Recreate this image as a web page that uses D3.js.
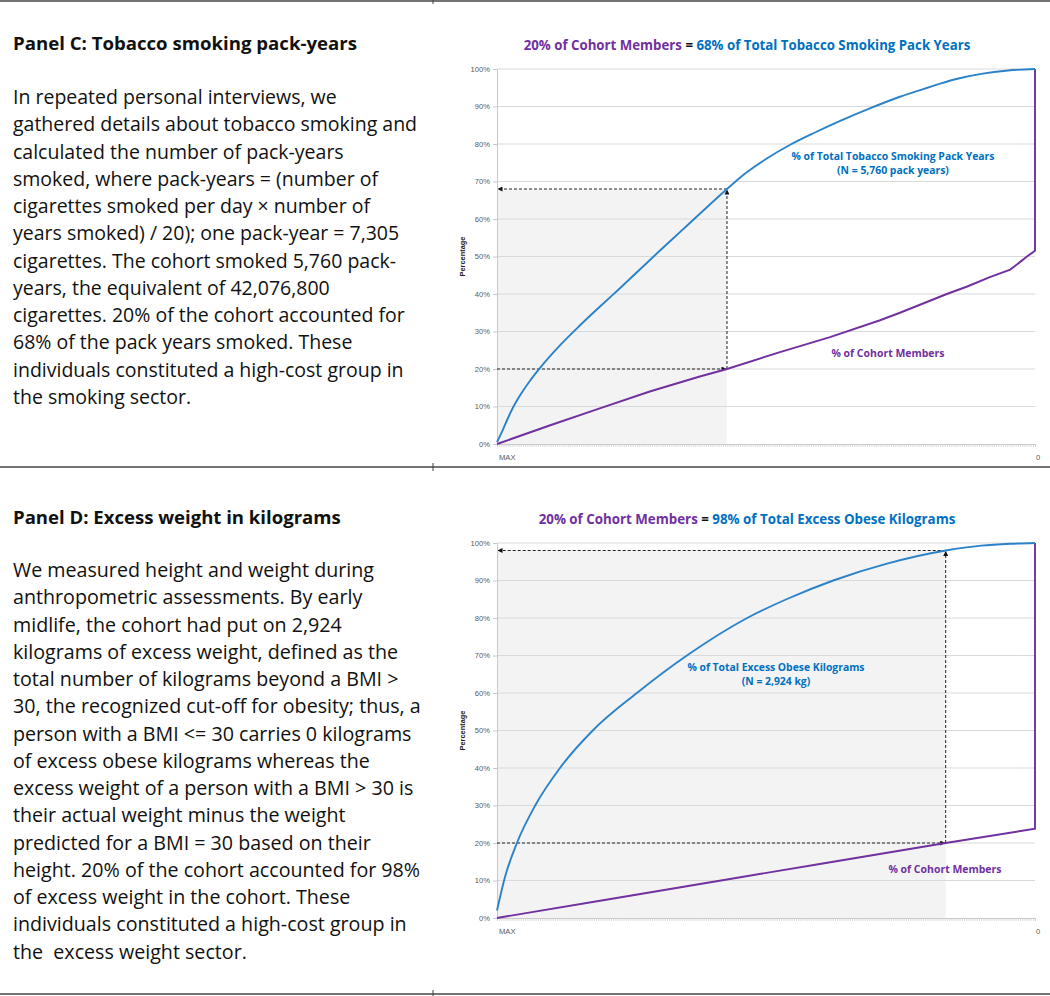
<!DOCTYPE html>
<html><head><meta charset="utf-8">
<script src="https://cdn.jsdelivr.net/npm/d3@7"></script>
<style>body{margin:0;background:#fff;} svg{display:block;}</style>
</head><body><svg id="c" width="1050" height="996"></svg>
<script>
// ---------- DATA ----------
const yTickValues = [0,10,20,30,40,50,60,70,80,90,100];
const xTickLabels = ["MAX", "0"];

const panelCTitle = "Panel C: Tobacco smoking pack-years";
const panelCLines = [
  "In repeated personal interviews, we",
  "gathered details about tobacco smoking and",
  "calculated the number of pack-years",
  "smoked, where pack-years = (number of",
  "cigarettes smoked per day \u00d7 number of",
  "years smoked) / 20); one pack-year = 7,305",
  "cigarettes. The cohort smoked 5,760 pack-",
  "years, the equivalent of 42,076,800",
  "cigarettes. 20% of the cohort accounted for",
  "68% of the pack years smoked. These",
  "individuals constituted a high-cost group in",
  "the smoking sector."
];
const panelDTitle = "Panel D: Excess weight in kilograms";
const panelDLines = [
  "We measured height and weight during",
  "anthropometric assessments. By early",
  "midlife, the cohort had put on 2,924",
  "kilograms of excess weight, defined as the",
  "total number of kilograms beyond a BMI >",
  "30, the recognized cut-off for obesity; thus, a",
  "person with a BMI <= 30 carries 0 kilograms",
  "of excess obese kilograms whereas the",
  "excess weight of a person with a BMI > 30 is",
  "their actual weight minus the weight",
  "predicted for a BMI = 30 based on their",
  "height. 20% of the cohort accounted for 98%",
  "of excess weight in the cohort. These",
  "individuals constituted a high-cost group in",
  "the  excess weight sector."
];

// Panel C series (x = position along the MAX..0 axis, in % of axis)
const cShareX = [0, 1, 2, 3, 4.3, 6.1, 8.0, 11.7, 15.4, 19.1, 22.9, 26.6, 30.3, 34.0, 37.7, 42.75, 46, 50, 54.5, 59, 64, 69.3, 74.9, 80, 85, 90, 95, 100];
const cShareY = [0.5, 3.5, 6.8, 9.8, 13, 16.8, 20.3, 26.3, 31.6, 36.6, 41.6, 46.6, 51.6, 56.5, 61.4, 68, 72, 76, 79.8, 83, 86.3, 89.5, 92.6, 95, 97.2, 98.7, 99.6, 100];
const cCohortX = [0, 9.9, 19.1, 28.4, 37.7, 42.75, 52.6, 61.9, 71.2, 74.9, 83.6, 87.4, 91.6, 95.4, 97.2, 98.5, 100, 100];
const cCohortY = [0, 5, 9.5, 14, 18, 20, 24.5, 28.5, 33, 35, 40, 42, 44.5, 46.5, 48.5, 50, 51.5, 100];
const cMarker = {x: 42.75, cohort: 20, share: 68};

// Panel D series
const dShareX = [0, 1.5, 3.7, 7.1, 11.7, 17.8, 26.0, 35.3, 46.5, 53.8, 62.5, 72.5, 83.4, 90, 95.4, 100];
const dShareY = [2, 11, 20, 30, 40, 50, 60, 70, 80, 85, 90, 94.5, 98, 99.3, 99.8, 100];
const dCohortX = [0, 20, 43.3, 60, 83.4, 100, 100];
const dCohortY = [0, 4.8, 10.4, 14.4, 20, 23.8, 100];
const dMarker = {x: 83.4, cohort: 20, share: 98};

// ---------- STYLE ----------
const BLUE_LINE = "#2b82c9", PURPLE = "#7030a0", BLUE_TXT = "#0070c0";
const TXT_FONT = "'Open Sans', Lato, sans-serif";
const AX_FONT = "'Liberation Sans', Arial, sans-serif";

const svg = d3.select("#c");
const defs = svg.append("defs");
defs.append("marker").attr("id","arr").attr("viewBox","0 0 10 10")
  .attr("refX",9).attr("refY",5).attr("markerWidth",5).attr("markerHeight",5)
  .attr("orient","auto-start-reverse")
  .append("path").attr("d","M0,0 L10,5 L0,10 z").attr("fill","#111");

// scale a text element's font so that a measured node has the target width
function fit(textSel, measureNode, target) {
  const fs = parseFloat(textSel.attr("font-size"));
  const w = measureNode.getComputedTextLength();
  if (w > 0) textSel.attr("font-size", (fs * target / w).toFixed(2));
}

// Table borders
[1, 467, 994].forEach(y => {
  svg.append("line").attr("x1",0).attr("x2",1050).attr("y1",y).attr("y2",y)
    .attr("stroke","#444").attr("stroke-width",1.4);
});
[[0,4],[463,471],[990,996]].forEach(([a,b]) => {
  svg.append("line").attr("x1",433).attr("x2",433).attr("y1",a).attr("y2",b)
    .attr("stroke","#444").attr("stroke-width",1);
});

function drawText(title, lines, titleY, firstY, titleW, refIdx, refW) {
  const tt = svg.append("text").attr("x",13).attr("y",titleY)
    .attr("font-family",TXT_FONT).attr("font-weight","bold").attr("font-size",18)
    .attr("fill","#111").text(title);
  fit(tt, tt.node(), titleW);
  const t = svg.append("text").attr("font-family",TXT_FONT).attr("font-size",18).attr("fill","#111");
  const spans = lines.map((l,i) =>
    t.append("tspan").attr("x",13).attr("y",firstY + i*27.25).attr("xml:space","preserve").text(l));
  fit(t, spans[refIdx].node(), refW);
}
drawText(panelCTitle, panelCLines, 50, 104, 344, 1, 404);
drawText(panelDTitle, panelDLines, 524, 577, 328, 5, 408);

function drawChart(o) {
  const x = d3.scaleLinear().domain([0,100]).range([497,1035]);
  const y = d3.scaleLinear().domain([0,100]).range([o.bottom, o.top]);
  const g = svg.append("g");

  // title
  const tt = g.append("text").attr("x",747).attr("y",o.top-19).attr("text-anchor","middle")
    .attr("font-family",TXT_FONT).attr("font-weight","bold").attr("font-size",13);
  tt.append("tspan").attr("fill",PURPLE).text(o.titleA);
  tt.append("tspan").attr("fill","#111").text(" = ");
  tt.append("tspan").attr("fill",BLUE_TXT).text(o.titleB);
  fit(tt, tt.node(), o.titleW);

  // shading
  g.append("rect").attr("x",x(0)).attr("y",y(o.marker.share))
    .attr("width",x(o.marker.x)-x(0)).attr("height",y(0)-y(o.marker.share))
    .attr("fill","#f3f3f3");

  // gridlines
  g.append("g").selectAll("line").data(yTickValues.filter(d=>d>0)).join("line")
    .attr("x1",x(0)).attr("x2",x(100)).attr("y1",d=>y(d)).attr("y2",d=>y(d))
    .attr("stroke","#d9d9d9").attr("stroke-width",1);

  // y axis
  const ya = g.append("g").attr("transform",`translate(${x(0)},0)`)
    .call(d3.axisLeft(y).tickValues(yTickValues).tickSize(4).tickPadding(3).tickFormat(d=>d+"%"));
  ya.select(".domain").attr("stroke","#c8c8c8");
  ya.selectAll(".tick line").attr("stroke","#c8c8c8");
  ya.selectAll("text").attr("font-family",AX_FONT).attr("font-size",7.6).attr("fill","#595959");

  // x axis with dense category ticks
  const xa = g.append("g").attr("transform",`translate(0,${y(0)})`)
    .call(d3.axisBottom(x).tickValues(d3.range(0,100.001,0.4)).tickSize(3).tickFormat(""));
  xa.select(".domain").attr("stroke","#c8c8c8");
  xa.selectAll(".tick line").attr("stroke","#d0d0d0").attr("stroke-width",0.8);
  g.append("text").attr("x",x(0)+2).attr("y",y(0)+16).attr("font-family",AX_FONT)
    .attr("font-size",7.6).attr("fill","#595959").text(xTickLabels[0]);
  g.append("text").attr("x",x(100)+3).attr("y",y(0)+16).attr("text-anchor","middle").attr("font-family",AX_FONT)
    .attr("font-size",7.6).attr("fill","#595959").text(xTickLabels[1]);

  // y axis title
  g.append("text").attr("transform",`translate(465,${(o.top+o.bottom)/2}) rotate(-90)`)
    .attr("text-anchor","middle").attr("font-family",AX_FONT)
    .attr("font-weight","bold").attr("font-size",7.4).attr("fill","#222").text("Percentage");

  // dashed guides
  const dash = "3,2";
  g.append("line").attr("x1",x(0)).attr("x2",x(o.marker.x)-1).attr("y1",y(o.marker.cohort)).attr("y2",y(o.marker.cohort))
    .attr("stroke","#222").attr("stroke-dasharray",dash).attr("stroke-width",1).attr("marker-end","url(#arr)");
  g.append("line").attr("x1",x(o.marker.x)).attr("x2",x(o.marker.x)).attr("y1",y(o.marker.cohort)).attr("y2",y(o.marker.share)+1)
    .attr("stroke","#222").attr("stroke-dasharray",dash).attr("stroke-width",1).attr("marker-end","url(#arr)");
  g.append("line").attr("x1",x(o.marker.x)).attr("x2",x(0)+1).attr("y1",y(o.marker.share)).attr("y2",y(o.marker.share))
    .attr("stroke","#222").attr("stroke-dasharray",dash).attr("stroke-width",1).attr("marker-end","url(#arr)");

  // lines
  const line = d3.line().x(d=>x(d[0])).y(d=>y(d[1])).curve(d3.curveMonotoneX);
  const lineL = d3.line().x(d=>x(d[0])).y(d=>y(d[1]));
  g.append("path").datum(d3.zip(o.cohortX,o.cohortY)).attr("d",lineL)
    .attr("fill","none").attr("stroke",PURPLE).attr("stroke-width",1.9);
  g.append("path").datum(d3.zip(o.shareX,o.shareY)).attr("d",line)
    .attr("fill","none").attr("stroke",BLUE_LINE).attr("stroke-width",1.9);

  // labels
  const lab = g.append("text").attr("text-anchor","middle").attr("font-family",TXT_FONT)
    .attr("font-weight","bold").attr("font-size",9.6).attr("fill",BLUE_TXT);
  const l1 = lab.append("tspan").attr("x",o.shareLab[0]).attr("y",o.shareLab[1]).text(o.shareText[0]);
  lab.append("tspan").attr("x",o.shareLab[0]).attr("y",o.shareLab[1]+14).text(o.shareText[1]);
  fit(lab, l1.node(), o.shareW);
  const cl = g.append("text").attr("x",o.cohortLab[0]).attr("y",o.cohortLab[1]).attr("text-anchor","middle")
    .attr("font-family",TXT_FONT).attr("font-weight","bold").attr("font-size",9.6).attr("fill",PURPLE)
    .text("% of Cohort Members");
  fit(cl, cl.node(), 113);
}

drawChart({top:69, bottom:444, marker:cMarker, shareX:cShareX, shareY:cShareY, cohortX:cCohortX, cohortY:cCohortY,
  titleA:"20% of Cohort Members", titleB:"68% of Total Tobacco Smoking Pack Years", titleW:447,
  shareText:["% of Total Tobacco Smoking Pack Years","(N = 5,760 pack years)"], shareLab:[893,160], shareW:203, cohortLab:[888,357]});
drawChart({top:543, bottom:918, marker:dMarker, shareX:dShareX, shareY:dShareY, cohortX:dCohortX, cohortY:dCohortY,
  titleA:"20% of Cohort Members", titleB:"98% of Total Excess Obese Kilograms", titleW:417,
  shareText:["% of Total Excess Obese Kilograms","(N = 2,924 kg)"], shareLab:[776,671], shareW:177, cohortLab:[945,873]});
</script></body></html>
